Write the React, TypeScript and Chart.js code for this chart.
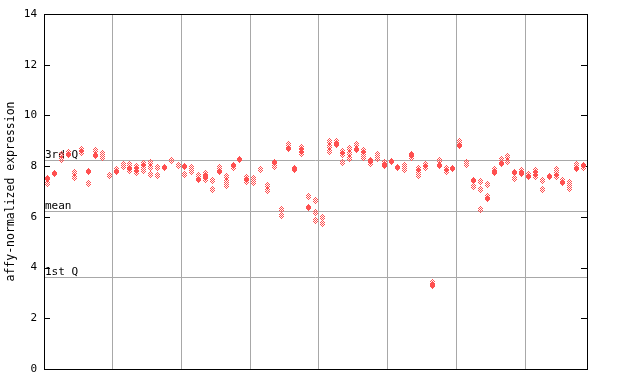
import React, { useEffect, useRef } from 'react';
import { Chart, registerables } from 'chart.js';

Chart.register(...registerables);

const yTicks = [0, 2, 4, 6, 8, 10, 12, 14];
const groupSeparators = [10, 20, 30, 40, 50, 60, 70];
const sampleCount = 79;
const quartileLabels = ['3rd Q', 'mean', '1st Q'];
const quartileValues = [8.24, 6.23, 3.63];
const yTitle = 'affy-normalized expression';

// per-sample values (index = sample position)
const filledValues: number[][] = [
  [7.52], [7.72], [], [8.46], [], [], [7.78], [8.41], [], [],
  [7.78], [], [7.9], [], [], [], [], [7.94], [], [],
  [7.98], [], [7.47], [7.58], [], [7.78], [], [8.04], [8.28], [7.46],
  [], [], [], [8.14], [], [8.68], [7.91], [], [6.38], [],
  [], [], [8.87], [], [], [8.64], [], [8.24], [], [8.02],
  [8.2], [7.95], [], [8.44], [], [], [3.31], [8.02], [], [7.89],
  [8.83], [], [7.45], [], [6.73], [7.75], [8.11], [], [7.74], [7.71],
  [7.58], [], [], [7.58], [], [7.36], [], [7.91], [8.04],
];

const ditheredValues: number[][] = [
  [7.32], [], [8.45, 8.28], [8.55], [7.74, 7.56], [8.66, 8.54], [7.32], [8.6], [8.48, 8.35], [7.63],
  [7.87], [8.07, 7.98], [8.07, 7.82], [8.0, 7.87, 7.74], [8.1, 7.98, 7.82], [8.15, 7.95, 7.67], [7.95, 7.65], [], [8.24], [8.02],
  [7.69], [7.95, 7.8], [7.65], [7.7, 7.46], [7.45, 7.06], [7.94], [7.58, 7.39, 7.24], [7.94], [], [7.55, 7.38],
  [7.53, 7.37], [7.88], [7.23, 7.05], [8.0], [6.3, 6.07], [8.86], [7.85], [8.75, 8.6, 8.48], [6.82], [6.65, 6.18, 5.86],
  [5.98, 5.72], [8.96, 8.77, 8.57], [8.96], [8.57, 8.44, 8.15], [8.7, 8.48, 8.31], [8.87], [8.6, 8.48, 8.35], [8.11], [8.44, 8.31], [8.15],
  [], [], [8.02, 7.88], [8.33], [7.89, 7.78, 7.65], [8.07, 7.95], [3.42], [8.24], [7.89, 7.78], [],
  [8.96], [8.15, 8.07], [7.2], [7.39, 7.08, 6.3], [7.28, 6.82], [7.85], [8.27], [8.4, 8.17], [7.52], [7.82],
  [7.67], [7.82, 7.71, 7.58], [7.45, 7.08], [], [7.85, 7.71, 7.58], [7.45], [7.35, 7.26, 7.12], [8.07], [7.95],
];

const RED = '#ff5050';
const FONT = '"DejaVu Sans Mono", monospace';

function makeDiamond(dithered: boolean): HTMLCanvasElement {
  const rows = [1, 3, 5, 5, 5, 3, 1];
  const w = 5;
  const c = document.createElement('canvas');
  c.width = w;
  c.height = rows.length;
  const ctx = c.getContext('2d')!;
  ctx.fillStyle = RED;
  rows.forEach((rw, r) => {
    const start = (w - rw) / 2;
    for (let k = 0; k < rw; k++) {
      const px = start + k;
      if (!dithered || (px + r) % 2 === 0) ctx.fillRect(px, r, 1, 1);
    }
  });
  return c;
}

function toPoints(values: number[][]) {
  const pts: { x: number; y: number }[] = [];
  values.forEach((vals, i) => {
    vals.forEach((v) => pts.push({ x: i + 0.5, y: v }));
  });
  return pts;
}

const overlayPlugin = {
  id: 'overlay',
  beforeDatasetsDraw(chart: any) {
    const { ctx, chartArea, scales } = chart;
    const { left, right, top, bottom } = chartArea;
    const y = scales.y;
    ctx.save();
    ctx.lineWidth = 1;
    ctx.strokeStyle = '#a8a8a8';
    ctx.fillStyle = '#000';
    ctx.font = '11px ' + FONT;
    ctx.textAlign = 'left';
    ctx.textBaseline = 'bottom';
    quartileValues.forEach((v, i) => {
      const py = Math.round(y.getPixelForValue(v)) + 0.5;
      ctx.beginPath();
      ctx.moveTo(left, py);
      ctx.lineTo(right, py);
      ctx.stroke();
      ctx.fillText(quartileLabels[i], left + 1, py);
    });
    ctx.strokeStyle = '#000';
    yTicks.forEach((v) => {
      const py = Math.round(y.getPixelForValue(v)) + 0.5;
      ctx.beginPath();
      ctx.moveTo(left, py);
      ctx.lineTo(left + 6, py);
      ctx.moveTo(right - 6, py);
      ctx.lineTo(right, py);
      ctx.stroke();
    });
    ctx.strokeRect(Math.floor(left) + 0.5, Math.floor(top) + 0.5, Math.round(right - left), Math.round(bottom - top));
    ctx.restore();
    ctx.imageSmoothingEnabled = false;
  },
};

export default function App() {
  const ref = useRef<HTMLCanvasElement | null>(null);
  useEffect(() => {
    if (!ref.current) return;
    const filledImg = makeDiamond(false);
    const ditherImg = makeDiamond(true);
    const chart = new Chart(ref.current, {
      type: 'scatter',
      data: {
        datasets: [
          {
            label: 'filled',
            data: toPoints(filledValues),
            pointStyle: filledImg as any,
            pointRadius: 3,
            backgroundColor: RED,
            borderColor: RED,
          },
          {
            label: 'dithered',
            data: toPoints(ditheredValues),
            pointStyle: ditherImg as any,
            pointRadius: 3,
            backgroundColor: RED,
            borderColor: RED,
          },
        ],
      },
      options: {
        animation: false,
        responsive: false,
        devicePixelRatio: 1,
        layout: { padding: { left: 0, right: 53, top: 14, bottom: 15 } },
        plugins: { legend: { display: false }, tooltip: { enabled: false } },
        scales: {
          x: {
            type: 'linear',
            min: 0,
            max: sampleCount,
            afterBuildTicks: (scale: any) => {
              scale.ticks = groupSeparators.map((v) => ({ value: v }));
            },
            afterFit: (scale: any) => {
              scale.height = 0;
            },
            ticks: { display: false },
            grid: { color: '#a8a8a8', lineWidth: 1, drawTicks: false },
            border: { display: false },
          },
          y: {
            type: 'linear',
            min: 0,
            max: 14,
            afterBuildTicks: (scale: any) => {
              scale.ticks = yTicks.map((v) => ({ value: v }));
            },
            afterFit: (scale: any) => {
              scale.width = 44;
            },
            ticks: { color: '#000', font: { family: FONT, size: 11 }, padding: 7 },
            grid: { display: false, drawTicks: false },
            border: { display: false },
            title: {
              display: true,
              text: yTitle,
              color: '#000',
              font: { family: FONT, size: 11.5 },
              padding: { top: 4, bottom: 0 },
            },
          },
        },
      },
      plugins: [overlayPlugin],
    });
    return () => chart.destroy();
  }, []);
  return (
    <div style={{ position: 'absolute', left: 0, top: 0, width: 640, height: 384, background: '#fff' }}>
      <canvas ref={ref} width={640} height={384} style={{ width: 640, height: 384 }} />
    </div>
  );
}
